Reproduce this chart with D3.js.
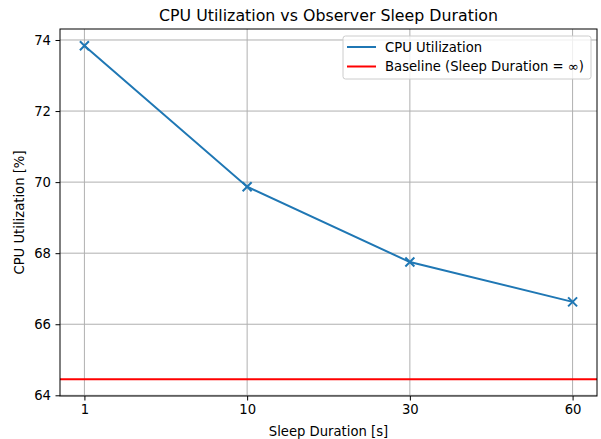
<html>
  <head>
    <script src="https://d3js.org/d3.v7.min.js"></script>
    <style>
      body { margin: 0; background: #fff; }
      text { font-family: "DejaVu Sans", sans-serif; fill: #000; }
    </style>
  </head>
  <body>
<div id="my_dataviz"></div>
<script>
// data
var sleepLabels = ["1", "10", "30", "60"];
var cpuValues = [73.84, 69.87, 67.75, 66.63];
var baselineValue = 64.45;
var yTicks = [64, 66, 68, 70, 72, 74];

var margin = {top: 29, right: 4, bottom: 43, left: 60},
    width = 601 - margin.left - margin.right,
    height = 439 - margin.top - margin.bottom;

var svg = d3.select("#my_dataviz")
  .append("svg")
    .attr("width", 601)
    .attr("height", 439)
  .append("g")
    .attr("transform", "translate(" + margin.left + "," + margin.top + ")");

// categorical positions, matplotlib-like 5% padding
var x = d3.scaleLinear()
  .domain([-0.15, sleepLabels.length - 1 + 0.15])
  .range([0, width]);

var lo = Math.min(baselineValue, d3.min(cpuValues)),
    hi = Math.max(baselineValue, d3.max(cpuValues)),
    pad = (hi - lo) * 0.05;
var y = d3.scaleLinear()
  .domain([lo - pad, hi + pad])
  .range([height, 0]);

// grid
svg.append("g").selectAll("line.gx")
  .data(sleepLabels)
  .enter().append("line")
    .attr("x1", function(d, i) { return x(i); })
    .attr("x2", function(d, i) { return x(i); })
    .attr("y1", 0).attr("y2", height)
    .attr("stroke", "#b0b0b0").attr("stroke-width", 1);
svg.append("g").selectAll("line.gy")
  .data(yTicks)
  .enter().append("line")
    .attr("x1", 0).attr("x2", width)
    .attr("y1", function(d) { return y(d); })
    .attr("y2", function(d) { return y(d); })
    .attr("stroke", "#b0b0b0").attr("stroke-width", 1);

// baseline
svg.append("line")
  .attr("x1", 0).attr("x2", width)
  .attr("y1", y(baselineValue)).attr("y2", y(baselineValue))
  .attr("stroke", "#ff0000").attr("stroke-width", 2);

// CPU line
var line = d3.line()
  .x(function(d, i) { return x(i); })
  .y(function(d) { return y(d); });
svg.append("path")
  .datum(cpuValues)
  .attr("d", line)
  .attr("fill", "none")
  .attr("stroke", "#1f77b4")
  .attr("stroke-width", 2);

// x markers
var ms = 4.5;
svg.append("g").selectAll("path.mk")
  .data(cpuValues)
  .enter().append("path")
    .attr("d", function(d, i) {
      var cx = x(i), cy = y(d);
      return "M" + (cx - ms) + "," + (cy - ms) + "L" + (cx + ms) + "," + (cy + ms) +
             "M" + (cx - ms) + "," + (cy + ms) + "L" + (cx + ms) + "," + (cy - ms);
    })
    .attr("stroke", "#1f77b4")
    .attr("stroke-width", 2)
    .attr("fill", "none");

// axes
var xAxis = svg.append("g")
  .attr("transform", "translate(0," + height + ")")
  .call(d3.axisBottom(x)
    .tickValues(d3.range(sleepLabels.length))
    .tickFormat(function(i) { return sleepLabels[i]; })
    .tickSize(4.5).tickPadding(4.5));
var yAxis = svg.append("g")
  .call(d3.axisLeft(y)
    .tickValues(yTicks)
    .tickSize(4.5).tickPadding(4.5));
[xAxis, yAxis].forEach(function(a) {
  a.select(".domain").remove();
  a.selectAll(".tick line").attr("stroke", "#000").attr("stroke-width", 1);
  a.selectAll(".tick text").style("font-size", "13.2px").style("font-family", "DejaVu Sans").attr("fill", "#000");
});

// frame
svg.append("rect")
  .attr("x", 0).attr("y", 0)
  .attr("width", width).attr("height", height)
  .attr("fill", "none").attr("stroke", "#000").attr("stroke-width", 1);

// title and labels
svg.append("text")
  .attr("x", width / 2).attr("y", -8)
  .attr("text-anchor", "middle")
  .style("font-size", "15.8px")
  .text("CPU Utilization vs Observer Sleep Duration");
svg.append("text")
  .attr("x", width / 2).attr("y", height + 40)
  .attr("text-anchor", "middle")
  .style("font-size", "13.2px")
  .text("Sleep Duration [s]");
svg.append("text")
  .attr("transform", "rotate(-90)")
  .attr("x", -height / 2).attr("y", -36)
  .attr("text-anchor", "middle")
  .style("font-size", "13.2px")
  .text("CPU Utilization [%]");

// legend
var legend = svg.append("g").attr("transform", "translate(283,7)");
legend.append("rect")
  .attr("x", 0).attr("y", 0).attr("width", 248).attr("height", 43)
  .attr("rx", 2.5)
  .attr("fill", "#fff").attr("fill-opacity", 0.8)
  .attr("stroke", "#cccccc").attr("stroke-width", 1);
var legendItems = [
  {label: "CPU Utilization", color: "#1f77b4"},
  {label: "Baseline (Sleep Duration = \u221e)", color: "#ff0000"}
];
legendItems.forEach(function(d, i) {
  var ly = 11 + i * 19.5;
  legend.append("line")
    .attr("x1", 4).attr("x2", 33)
    .attr("y1", ly).attr("y2", ly)
    .attr("stroke", d.color).attr("stroke-width", 2);
  legend.append("text")
    .attr("x", 42).attr("y", ly)
    .attr("dominant-baseline", "central")
    .style("font-size", "13.2px")
    .text(d.label);
});
</script>
  </body>
</html>
